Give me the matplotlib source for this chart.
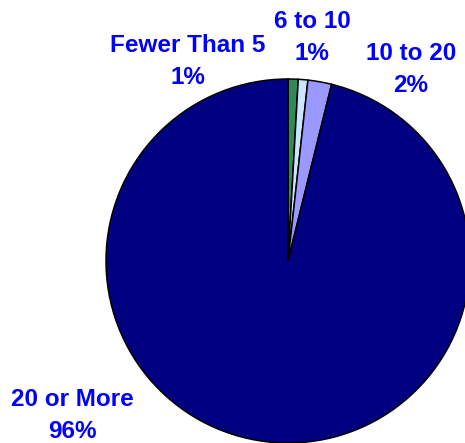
import matplotlib
matplotlib.use("Agg")
import matplotlib.pyplot as plt

categories = ["Fewer Than 5", "6 to 10", "10 to 20", "20 or More"]
values = [0.9, 0.85, 2.1, 96.15]
pct_labels = ["1%", "1%", "2%", "96%"]
colors = ["#2E8B57", "#CCE5FF", "#9999FF", "#000080"]

W, H = 465, 443
fig = plt.figure(figsize=(W / 100, H / 100), dpi=100)
fig.patch.set_facecolor("white")

cx, cy, r = 288, 261, 182
ax = fig.add_axes([(cx - r) / W, (H - cy - r) / H, 2 * r / W, 2 * r / H])
ax.pie(values, colors=colors, startangle=90, counterclock=False,
       radius=1.0, wedgeprops=dict(edgecolor="black", linewidth=1.1))
ax.set_xlim(-1, 1)
ax.set_ylim(-1, 1)
ax.set_aspect("auto")
ax.axis("off")

label_pos = [(188, 62), (312, 37), (411, 70), (72, 416)]
for cat, pct, (px, py) in zip(categories, pct_labels, label_pos):
    fig.text(px / W, 1 - py / H, f"{cat}\n{pct}", ha="center", va="center",
             color="#0000FF", fontsize=17.5, fontweight="bold",
             family=["Liberation Sans", "DejaVu Sans"], linespacing=1.5)

fig.savefig("out.png", dpi=100, facecolor="white")
